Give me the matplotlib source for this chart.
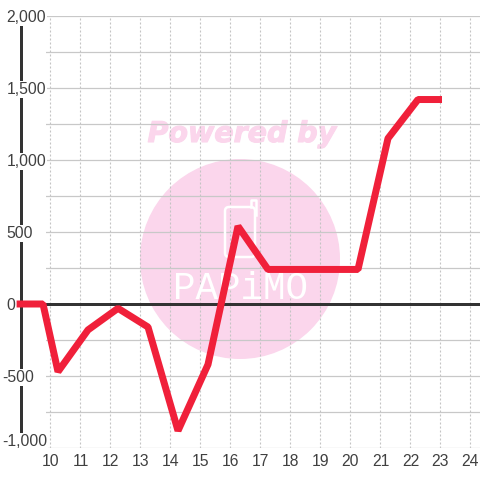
import matplotlib
matplotlib.use("Agg")
import matplotlib.pyplot as plt
import matplotlib.patheffects as pe
from matplotlib.patches import Circle, FancyBboxPatch
from matplotlib.lines import Line2D
from matplotlib.transforms import Affine2D, blended_transform_factory
from matplotlib.ticker import MultipleLocator, NullFormatter

hours = [8.87, 9.75, 10.25, 11.25, 12.25, 13.25, 14.25, 15.25, 16.25, 17.25, 18.25, 19.25, 20.25, 21.25, 22.25, 23.05]
values = [0, 0, -470, -180, -30, -160, -880, -420, 540, 240, 240, 240, 240, 1150, 1420, 1420]
x_ticks = list(range(10, 25))
y_major = [-1000, -500, 0, 500, 1000, 1500, 2000]

W = 480
plt.rcParams['font.family'] = ['Liberation Sans', 'DejaVu Sans']
fig = plt.figure(figsize=(4.8, 4.8), dpi=100, facecolor='white')
ax = fig.add_axes([46/W, 1-448/W, (480-46)/W, (448-16)/W])
ax.patch.set_visible(False)
px = Affine2D().scale(1/W, -1/W).translate(0, 1) + fig.transFigure
pxy = blended_transform_factory(px, ax.transData)

ax.set_xlim(9.85, 24.317)
ax.set_ylim(-1000, 2000)
for s in ['top', 'right', 'bottom']:
    ax.spines[s].set_visible(False)
ax.spines['left'].set_position(('outward', 25.5*0.72))
ax.spines['left'].set_linewidth(3*0.72)
ax.spines['left'].set_color('#333333')
ax.spines['left'].set_zorder(1)
ax.set_axisbelow(True)

ax.set_xticks(x_ticks)
ax.yaxis.set_major_locator(MultipleLocator(500))
ax.yaxis.set_minor_locator(MultipleLocator(250))
ax.yaxis.set_major_formatter(NullFormatter())
ax.grid(True, axis='y', which='both', color='#c8c8c8', lw=0.9)
ax.grid(True, axis='x', color='#c4c4c4', lw=0.8, ls=(0, (1.8, 1.8)))
ax.tick_params(axis='both', which='both', length=0, labelsize=11.3, labelcolor='#404040')
ax.tick_params(axis='x', pad=4.2)

# y labels: left-aligned, minus sign hanging; white backing interrupts the axis line
for v in y_major:
    ax.text(2 if v < 0 else 6.5, v + (45 if v == -1000 else -10), f"{v:,}", transform=pxy, ha='left', va='center',
            fontsize=11.3, color='#404040', zorder=1.2, clip_on=False,
            bbox=dict(facecolor='white', edgecolor='none', pad=0.6))

# watermark
ax.add_artist(Circle((240, 259), 100, transform=px, fc='#fbd6ec', ec='none', zorder=0.5, clip_on=False))
ax.text(242, 134, 'Powered by', transform=px, ha='center', va='center', family='DejaVu Sans',
        fontsize=20.5, fontweight='bold', fontstyle='oblique', color='#fbd6ec', zorder=0.5,
        path_effects=[pe.withStroke(linewidth=0.8, foreground='#fbd6ec')])
ax.text(240, 289, 'PAPiMO', transform=px, ha='center', va='center', fontsize=27, color='white', zorder=0.6,
        family='Liberation Mono')
ax.add_artist(FancyBboxPatch((225, 207), 30, 50, boxstyle='round,pad=0,rounding_size=4', transform=px,
                             fc='none', ec='white', lw=1.8, zorder=0.6, clip_on=False))
ax.add_artist(Line2D([251, 251, 256, 256], [207, 200, 200, 215], transform=px, color='white', lw=1.8, zorder=0.6))

ax.plot([8.87, 24.317], [0, 0], color='#333333', lw=3*0.72, zorder=1.8, clip_on=False, solid_capstyle='butt')
ax.plot(hours, values, color='#f0203a', lw=7*0.72, zorder=3, clip_on=False,
        solid_joinstyle='bevel', solid_capstyle='butt')

fig.savefig('out.png', dpi=100)
